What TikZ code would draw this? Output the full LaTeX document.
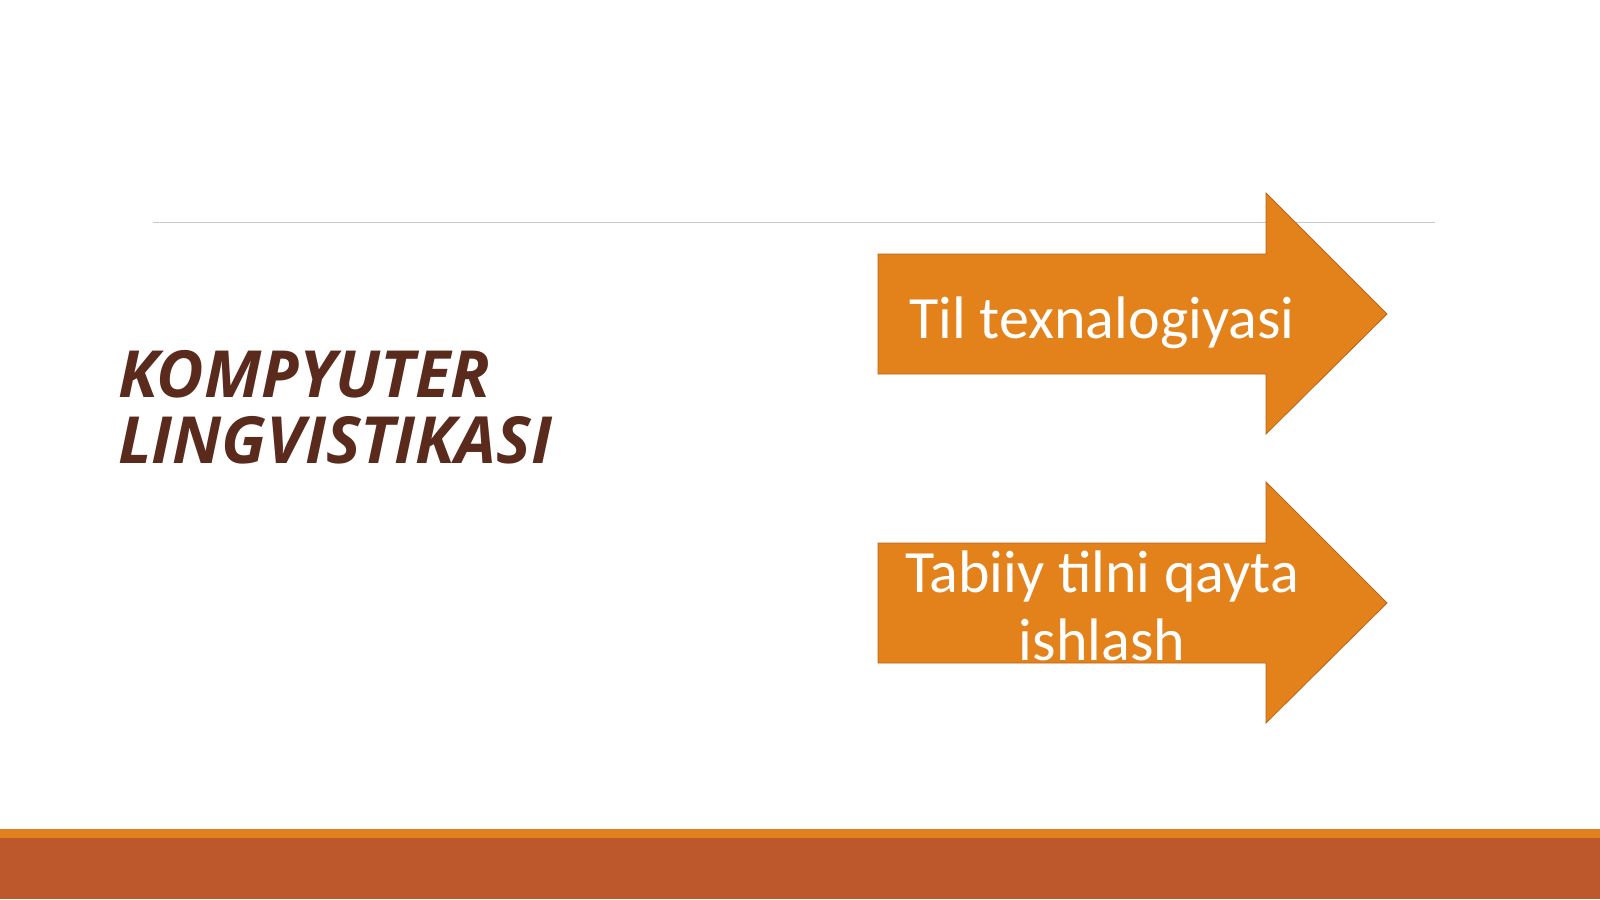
\documentclass[tikz,border=0pt]{standalone}
\usepackage{fontspec}
\setmainfont{Carlito}
\newfontfamily\titlefont{Open Sans}
\definecolor{arroworange}{HTML}{E3821A}
\definecolor{arrowedge}{HTML}{B8661A}
\definecolor{titlebrown}{HTML}{5A2A1C}
\definecolor{barorange}{HTML}{E27F1E}
\definecolor{barrust}{HTML}{BC582C}
\definecolor{rulegray}{HTML}{C8C8C8}
\begin{document}
\begin{tikzpicture}[x=1pt,y=-1pt,
  bigarrow/.style={fill=arroworange,draw=arrowedge,line width=0.8pt},
  arrowtext/.style={text=white,font=\fontsize{60}{68}\selectfont,align=center,inner sep=0pt},
  titletext/.style={text=titlebrown,font=\titlefont\bfseries\itshape\fontsize{65}{66}\selectfont,align=left,inner sep=0pt,anchor=base west}]
\useasboundingbox (0,0) rectangle (1600,899);
\fill[white] (0,0) rectangle (1600,899);
% bottom bars
\fill[barorange] (0,829) rectangle (1600,839);
\fill[barrust] (0,838) rectangle (1600,899);
% thin rule
\draw[rulegray,line width=1pt] (153,222) -- (1435,222);
% arrows
\draw[bigarrow] (878,254) -- (1266,254) -- (1266,193) -- (1387,314) -- (1266,434) -- (1266,374) -- (878,374) -- cycle;
\draw[bigarrow] (878,543) -- (1266,543) -- (1266,482) -- (1387,603) -- (1266,723) -- (1266,663) -- (878,663) -- cycle;
\node[arrowtext,anchor=base] (t1) at (1102,338) {Til texnalogiyasi};
\node[arrowtext,anchor=base] (t2a) at (1102,592) {Tabiiy tilni qayta};
\node[arrowtext,anchor=base] (t2b) at (1102,660) {ishlash};
\node[titletext] (k1) at (118,397) {KOMPYUTER};
\node[titletext] (k2) at (118,463) {LINGVISTIKASI};
\end{tikzpicture}
\end{document}
